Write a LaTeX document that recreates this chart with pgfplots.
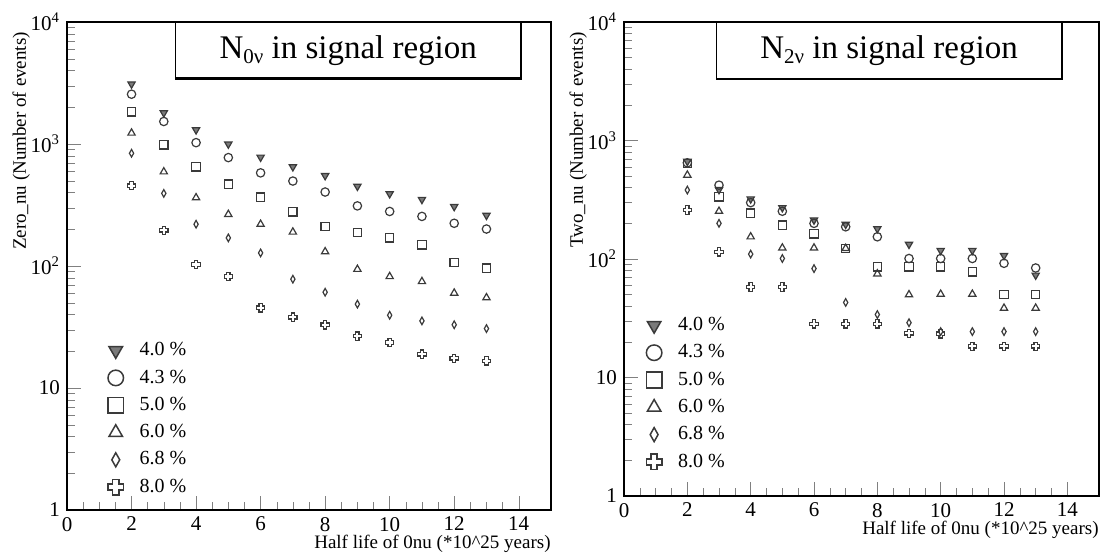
\documentclass[border=0pt]{standalone}
\usepackage{fontspec}
\setmainfont{Liberation Serif}
\usepackage{pgfplots}
\pgfplotsset{compat=1.18}
\usepackage{pgfplotstable}

\pgfdeclareplotmark{ocross}{%
  \pgfpathmoveto{\pgfqpoint{0.4\pgfplotmarksize}{\pgfplotmarksize}}%
  \pgfpathlineto{\pgfqpoint{0.4\pgfplotmarksize}{0.4\pgfplotmarksize}}%
  \pgfpathlineto{\pgfqpoint{\pgfplotmarksize}{0.4\pgfplotmarksize}}%
  \pgfpathlineto{\pgfqpoint{\pgfplotmarksize}{-0.4\pgfplotmarksize}}%
  \pgfpathlineto{\pgfqpoint{0.4\pgfplotmarksize}{-0.4\pgfplotmarksize}}%
  \pgfpathlineto{\pgfqpoint{0.4\pgfplotmarksize}{-\pgfplotmarksize}}%
  \pgfpathlineto{\pgfqpoint{-0.4\pgfplotmarksize}{-\pgfplotmarksize}}%
  \pgfpathlineto{\pgfqpoint{-0.4\pgfplotmarksize}{-0.4\pgfplotmarksize}}%
  \pgfpathlineto{\pgfqpoint{-\pgfplotmarksize}{-0.4\pgfplotmarksize}}%
  \pgfpathlineto{\pgfqpoint{-\pgfplotmarksize}{0.4\pgfplotmarksize}}%
  \pgfpathlineto{\pgfqpoint{-0.4\pgfplotmarksize}{0.4\pgfplotmarksize}}%
  \pgfpathlineto{\pgfqpoint{-0.4\pgfplotmarksize}{\pgfplotmarksize}}%
  \pgfpathclose
  \pgfusepathqstroke}

\definecolor{mkc}{HTML}{3A3A3A}
\definecolor{trifill}{HTML}{7A7A7A}

\pgfplotstableread{
x a b c d e f
2 3100 2560 1835 1230 840 456
3 1800 1530 985 592 394 196
4 1306 1026 650 363 220 103
5 998 774 468 265 170 82
6 779 580 366 220 128 45.5
7 650 497 278 190 78 38
8 550 404 211 131 61 33
9 450 311 188 94 48.7 26.6
10 391 280 170 82 39.5 23.6
11 351 255 149 74.6 35.5 18.9
12 307 224 107 60 33 17.5
13 260 201 96 55 30.7 16.7
}\leftdata

\pgfplotstableread{
x a b c d e f
2 666 648 640 511 382 259
3 385 420 335 253 200 115
4 321 299 244 154 110 58
5 271 253 193 124 101 58
6 213 200 163 124 83 28.4
7 196 187 123 123 43 28.4
8 180 154 86 75 34 28.4
9 133 101 86 50 29 23.6
10 118 101 86 50.5 24.4 23.4
11 118 101 78 50.5 24.4 18.3
12 107 92 50 38.5 24.4 18.3
13 73 84 50 38.5 24.4 18.3
}\rightdata

\pgfplotsset{
  every axis/.append style={
    scale only axis,
    xmin=0, xmax=15,
    ymin=1, ymax=10000,
    tick pos=left, tick align=inside,
    xtick={0,2,...,14}, minor x tick num=3,
    ytick={1,10,100,1000,10000},
    yticklabels={1,10,10\textsuperscript{2},10\textsuperscript{3},10\textsuperscript{4}},
    major tick length=7pt, minor tick length=4pt,
    axis line style={line width=0.6pt},
    /pgf/number format/assume math mode=true,
    tick label style={font=\fontsize{10.5}{10.5}\selectfont},
    label style={font=\fontsize{9.5}{11}\selectfont},
    xlabel={Half life of 0nu (*10\textasciicircum 25 years)},
    xlabel style={at={([yshift=-12.5pt]rel axis cs:1,0)}, anchor=north east, inner sep=0pt},
    legend style={draw=none, fill=none, font=\fontsize{10}{12}\selectfont,
      row sep=1.5pt, anchor=south west},
    legend cell align=left,
    legend image code/.code={\path[draw=none,fill=none] (0cm,0cm) -- (0.55cm,0cm);
      \draw[#1, line width=0.75pt, every mark/.append style={scale=1.85}] plot coordinates {(0.2cm,0cm)};},
  },
}

\begin{document}
\begin{tikzpicture}
\useasboundingbox (-33.5pt,11pt) rectangle (520pt,-265pt);
\begin{semilogyaxis}[at={(0pt,0pt)}, anchor=north west,
  width=242pt, height=244pt,
  ylabel={Zero\_nu (Number of events)},
  ylabel style={at={([xshift=-15pt,yshift=-1.5pt]rel axis cs:0,1)}, anchor=south east},
  legend style={at={(0.064,0.013)}},
]
\addplot[only marks, draw=mkc, mark size=2.1pt, line width=0.6pt, mark=triangle*, mark options={rotate=180, fill=trifill}] table[x=x,y=a]{\leftdata};
\addlegendentry{4.0 \%}
\addplot[only marks, draw=mkc, mark size=2.1pt, line width=0.6pt, mark=o] table[x=x,y=b]{\leftdata};
\addlegendentry{4.3 \%}
\addplot[only marks, draw=mkc, mark size=2.1pt, line width=0.6pt, mark=square] table[x=x,y=c]{\leftdata};
\addlegendentry{5.0 \%}
\addplot[only marks, draw=mkc, mark size=2.1pt, line width=0.6pt, mark=triangle] table[x=x,y=d]{\leftdata};
\addlegendentry{6.0 \%}
\addplot[only marks, draw=mkc, mark size=1.9pt, line width=0.6pt, mark=diamond, mark options={xscale=0.75}] table[x=x,y=e]{\leftdata};
\addlegendentry{6.8 \%}
\addplot[only marks, draw=mkc, mark size=2.1pt, line width=0.6pt, mark=ocross] table[x=x,y=f]{\leftdata};
\addlegendentry{8.0 \%}
\draw[line width=0.6pt] (rel axis cs:0.224,1) rectangle (rel axis cs:0.938,0.884);
\draw[line width=1.3pt] (rel axis cs:0.938,0.995) -- (rel axis cs:0.938,0.884) -- (rel axis cs:0.224,0.884);
\node[font=\fontsize{16.5}{18}\selectfont] at (rel axis cs:0.581,0.942) {N\raisebox{-0.35ex}{\fontsize{10.5}{11}\selectfont 0ν} in signal region};
\end{semilogyaxis}

\begin{semilogyaxis}[at={(278.5pt,0pt)}, anchor=north west,
  width=237.5pt, height=237pt,
  ylabel={Two\_nu (Number of events)},
  ylabel style={at={([xshift=-15pt,yshift=-1.5pt]rel axis cs:0,1)}, anchor=south east},
  legend style={at={(0.026,0.037)}},
]
\addplot[only marks, draw=mkc, mark size=2.1pt, line width=0.6pt, mark=triangle*, mark options={rotate=180, fill=trifill}] table[x=x,y=a]{\rightdata};
\addlegendentry{4.0 \%}
\addplot[only marks, draw=mkc, mark size=2.1pt, line width=0.6pt, mark=o] table[x=x,y=b]{\rightdata};
\addlegendentry{4.3 \%}
\addplot[only marks, draw=mkc, mark size=2.1pt, line width=0.6pt, mark=square] table[x=x,y=c]{\rightdata};
\addlegendentry{5.0 \%}
\addplot[only marks, draw=mkc, mark size=2.1pt, line width=0.6pt, mark=triangle] table[x=x,y=d]{\rightdata};
\addlegendentry{6.0 \%}
\addplot[only marks, draw=mkc, mark size=1.9pt, line width=0.6pt, mark=diamond, mark options={xscale=0.75}] table[x=x,y=e]{\rightdata};
\addlegendentry{6.8 \%}
\addplot[only marks, draw=mkc, mark size=2.1pt, line width=0.6pt, mark=ocross] table[x=x,y=f]{\rightdata};
\addlegendentry{8.0 \%}
\draw[line width=0.6pt] (rel axis cs:0.194,1) rectangle (rel axis cs:0.922,0.88);
\draw[line width=1.3pt] (rel axis cs:0.922,0.995) -- (rel axis cs:0.922,0.88) -- (rel axis cs:0.194,0.88);
\node[font=\fontsize{16.5}{18}\selectfont] at (rel axis cs:0.558,0.94) {N\raisebox{-0.35ex}{\fontsize{10.5}{11}\selectfont 2ν} in signal region};
\end{semilogyaxis}
\end{tikzpicture}
\end{document}
